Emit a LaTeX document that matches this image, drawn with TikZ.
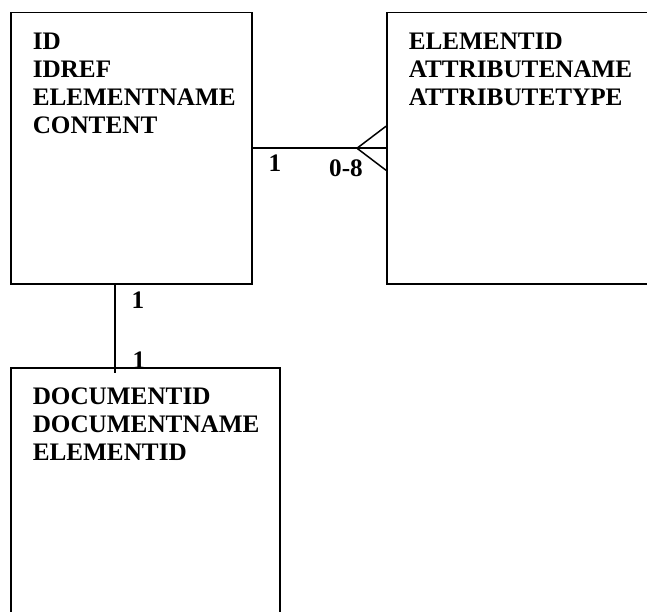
\documentclass[tikz,border=0pt]{standalone}
\usepackage{fontspec}
\setmainfont{Liberation Serif}
\usetikzlibrary{positioning}

\begin{document}
\begin{tikzpicture}[
    x=1pt, y=-1pt,
    line width=1.5pt,
    entity/.style={draw, anchor=north west, inner sep=0pt},
    fields/.style={align=left, inner sep=0pt, font=\bfseries\fontsize{25.2}{28}\selectfont},
    card/.style={inner sep=0pt, font=\bfseries\fontsize{25.2}{28}\selectfont}
]
\useasboundingbox (0,0) rectangle (647,612);
\clip (0,0) rectangle (647,612);

% entities
\node[entity, minimum width=241pt, minimum height=271pt] (elem) at (10,12) {};
\node[entity, minimum width=290pt, minimum height=271pt] (attr) at (386,12) {};
\node[entity, minimum width=269pt, minimum height=280pt] (docs) at (10,367) {};

\node[fields, below right=20pt and 22pt of elem.north west] (elemtxt)
    {ID\\IDREF\\ELEMENTNAME\\CONTENT};
\node[fields, below right=20pt and 22pt of attr.north west] (attrtxt)
    {ELEMENTID\\ATTRIBUTENAME\\ATTRIBUTETYPE};
\node[fields, below right=20pt and 22pt of docs.north west] (docstxt)
    {DOCUMENTID\\DOCUMENTNAME\\ELEMENTID};

% element -- attribute (one to many)
\coordinate (crow) at ([xshift=-29pt]attr.west);
\draw (elem.east) -- (attr.west);
\draw ([yshift=22pt]attr.west) -- (crow) -- ([yshift=-22pt]attr.west);
\node[card] (c1) at (275,163) {1};
\node[card] (c2) at (346,168) {0-8};

% element -- document (one to one)
\coordinate (top) at ([xshift=105pt]elem.south west);
\coordinate (bot) at ([xshift=105pt, yshift=-6pt]docs.north west);
\draw (top) -- (bot);
\node[card] (c3) at (138,300) {1};
\node[card] (c4) at (139,360) {1};
\end{tikzpicture}
\end{document}
